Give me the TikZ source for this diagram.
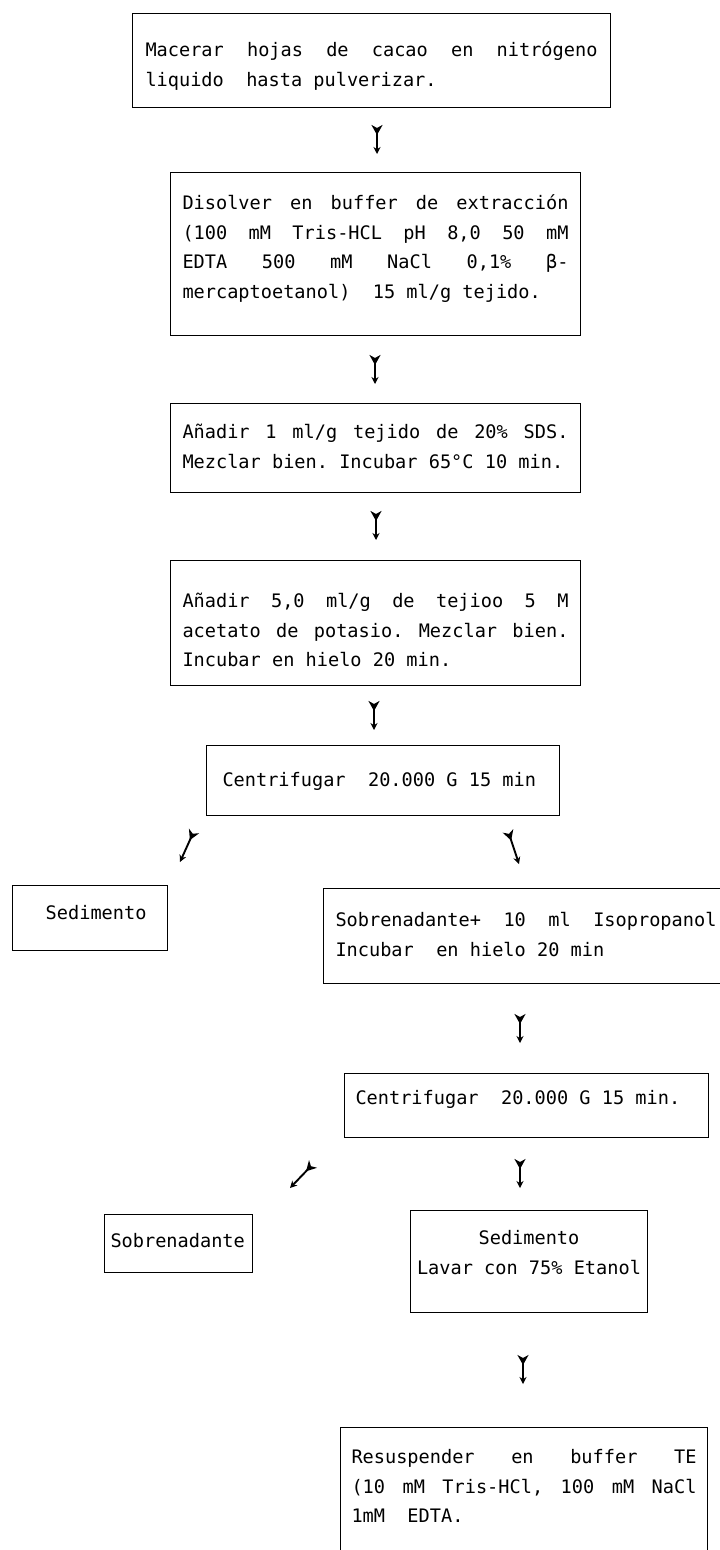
\documentclass[tikz,border=0pt]{standalone}
\usepackage{fontspec}
\setmonofont{DejaVu Sans Mono}
\usetikzlibrary{arrows.meta}

% lines of a fixed-pitch box, each as wide as the box text:
% justified (words spread out), flush left, and centred
\newcommand\jline[1]{\makebox[\hsize][s]{\spaceskip=0.602em plus 1fil\relax #1}}
\newcommand\lline[1]{\makebox[\hsize][l]{\spaceskip=0.602em\xspaceskip=0.602em\relax #1}}
\newcommand\centline[1]{\makebox[\hsize][c]{\spaceskip=0.602em\xspaceskip=0.602em\relax #1}}
% typewriter face with a full-pitch word space
\newcommand\typeface{\ttfamily\fontsize{18.6}{29.5}\selectfont
  \fontdimen2\font=0.602em\fontdimen3\font=0pt\fontdimen4\font=0pt
  \frenchspacing}

\begin{document}
\begin{tikzpicture}[x=1pt,y=-1pt,
  box/.style={draw=black, line width=1pt, anchor=north west, inner xsep=9.5pt,
    inner ysep=0pt, align=left, text height=15pt, font=\typeface},
  flow/.style={line width=1.9pt,
    {Stealth[reversed,length=10pt,width=11pt,inset=3pt]}-{Stealth[length=7pt,width=7pt]}}
]
\useasboundingbox (0,0) rectangle (720,1550);

% main column
\node[box, inner xsep=13pt, text width=452pt, minimum height=94pt, text height=30pt, text depth=38pt] (b1) at (132,13)
  {\jline{Macerar hojas de cacao en nitrógeno}\\
   \lline{liquido\ \ hasta pulverizar.}};
\node[box, inner xsep=12pt, text width=386pt, minimum height=163pt, text depth=104pt] (b2) at (170,172)
  {\jline{Disolver en buffer de extracción}\\
   \jline{(100 mM Tris-HCL pH 8,0 50 mM}\\
   \jline{EDTA 500 mM NaCl 0,1\% β-}\\
   \lline{mercaptoetanol)\ \ 15 ml/g tejido.}};
\node[box, inner xsep=12pt, text width=386pt, minimum height=89pt, text height=20pt, text depth=39pt] (b3) at (170,403)
  {\jline{Añadir 1 ml/g tejido de 20\% SDS.}\\
   \lline{Mezclar bien. Incubar 65°C 10 min.}};
\node[box, inner xsep=12pt, text width=386pt, minimum height=125pt, text height=30pt, text depth=61pt] (b4) at (170,560)
  {\jline{Añadir 5,0 ml/g de tejioo 5 M}\\
   \jline{acetato de potasio. Mezclar bien.}\\
   \lline{Incubar en hielo 20 min.}};
\node[box, inner xsep=16pt, text width=321pt, minimum height=70pt, text depth=3pt] (b5) at (206,745)
  {\lline{Centrifugar\ \ 20.000 G 15 min}};

% branches after the first spin
\node[box, inner xsep=21pt, text width=113pt, minimum height=65pt, text depth=12pt] (sed1) at (12,885)
  {\makebox[\hsize][r]{Sedimento}};
\node[box, inner xsep=12pt, text width=381pt, minimum height=95pt, text height=20pt, text depth=39pt] (sob1) at (323,888)
  {\jline{Sobrenadante+ 10 ml Isopropanol}\\
   \lline{Incubar\ \ en hielo 20 min}};
\node[box, inner xsep=11pt, text width=342pt, minimum height=64pt, text depth=17pt] (b6) at (344,1073)
  {\lline{Centrifugar\ \ 20.000 G 15 min.}};

% branches after the second spin
\node[box, inner xsep=6pt, text width=136pt, minimum height=58pt, text depth=7pt] (sob2) at (104,1214)
  {\lline{Sobrenadante}};
\node[box, inner xsep=3pt, text width=231pt, minimum height=102pt, text height=15pt, text depth=49pt] (sed2) at (410,1210)
  {\centline{Sedimento}\\\centline{Lavar con 75\% Etanol}};
\node[box, inner xsep=11pt, text width=345pt, minimum height=128pt, text height=18pt, text depth=74pt] (b7) at (340,1427)
  {\jline{Resuspender en buffer TE}\\
   \jline{(10 mM Tris-HCl, 100 mM NaCl}\\
   \lline{1mM\ \ EDTA.}};

% arrow ends
\coordinate (t1) at (377,125);  \coordinate (h1) at (377,154);
\coordinate (t2) at (375,355);  \coordinate (h2) at (375,384);
\coordinate (t3) at (376,511);  \coordinate (h3) at (376,540);
\coordinate (t4) at (374,701);  \coordinate (h4) at (374,730);
\coordinate (tl) at (194,831);  \coordinate (hl) at (180,862);
\coordinate (tr) at (508,831);  \coordinate (hr) at (519,864);
\coordinate (t5) at (520,1014); \coordinate (h5) at (520,1043);
\coordinate (tl2) at (313,1164); \coordinate (hl2) at (290,1188);
\coordinate (t6) at (520,1159); \coordinate (h6) at (520,1188);
\coordinate (t7) at (523,1355); \coordinate (h7) at (523,1384);

\draw[flow] (t1) -- (h1);
\draw[flow] (t2) -- (h2);
\draw[flow] (t3) -- (h3);
\draw[flow] (t4) -- (h4);
\draw[flow] (tl) -- (hl);
\draw[flow] (tr) -- (hr);
\draw[flow] (t5) -- (h5);
\draw[flow] (tl2) -- (hl2);
\draw[flow] (t6) -- (h6);
\draw[flow] (t7) -- (h7);
\end{tikzpicture}
\end{document}
